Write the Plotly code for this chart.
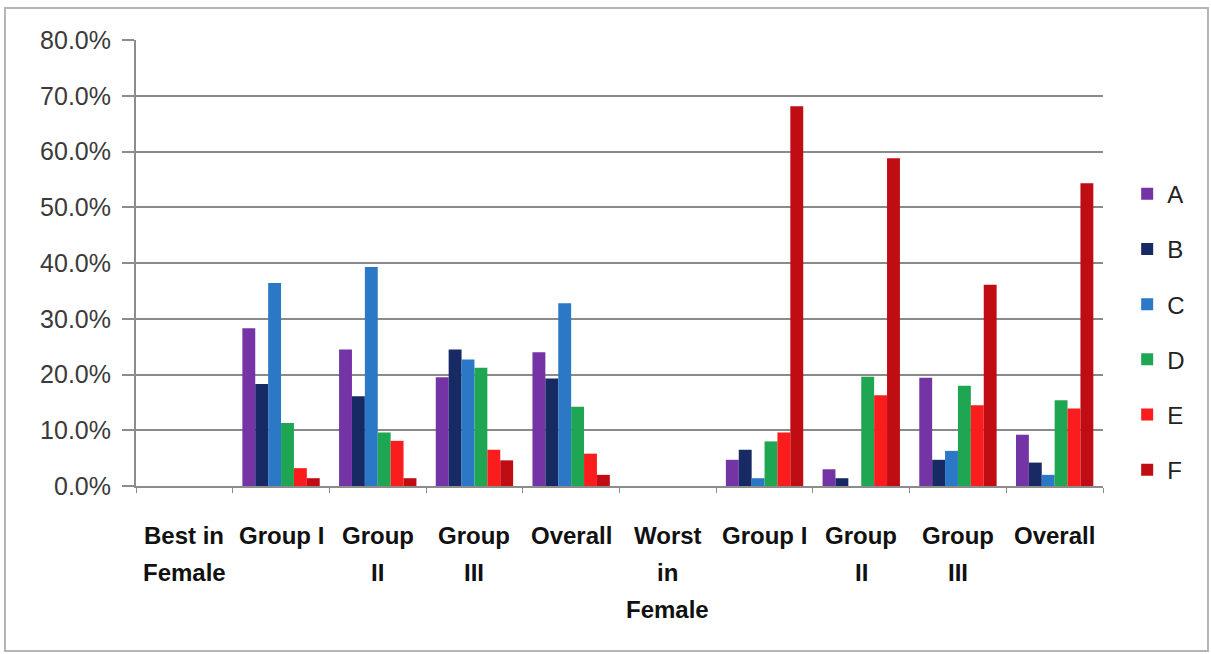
import plotly.graph_objects as go

# Category labels along the x axis (two blocks: best / worst in female)
categories = [
    "Best in<br>Female", "Group I", "Group<br>II", "Group<br>III", "Overall",
    "Worst<br>in<br>Female", "Group I", "Group<br>II", "Group<br>III", "Overall",
]

# Share of each grade per category (fractions); header columns are empty
series_names = ["A", "B", "C", "D", "E", "F"]
grade_a = [None, 0.283, 0.245, 0.195, 0.240, None, 0.047, 0.030, 0.194, 0.092]
grade_b = [None, 0.183, 0.161, 0.245, 0.193, None, 0.065, 0.014, 0.047, 0.042]
grade_c = [None, 0.364, 0.393, 0.227, 0.328, None, 0.014, 0.000, 0.063, 0.020]
grade_d = [None, 0.113, 0.096, 0.212, 0.142, None, 0.080, 0.196, 0.180, 0.154]
grade_e = [None, 0.032, 0.081, 0.065, 0.058, None, 0.096, 0.163, 0.145, 0.139]
grade_f = [None, 0.014, 0.014, 0.046, 0.020, None, 0.681, 0.588, 0.361, 0.543]

series_values = [grade_a, grade_b, grade_c, grade_d, grade_e, grade_f]
series_colors = ["#7434a6", "#172a63", "#2a78c6", "#1fa653", "#fb1d1d", "#c00d14"]

y_ticks = [0.0, 0.1, 0.2, 0.3, 0.4, 0.5, 0.6, 0.7, 0.8]

x_pos = list(range(len(categories)))

fig = go.Figure()
for name, vals, col in zip(series_names, series_values, series_colors):
    fig.add_trace(go.Bar(
        x=x_pos, y=vals, name=name, legendgroup=name,
        marker=dict(color=col, line=dict(width=0)),
    ))

font_main = "Liberation Sans, Arial, sans-serif"

# Plot area geometry in pixels (used to place the multi-line category labels)
plot_top, plot_bottom = 40, 486
plot_h = plot_bottom - plot_top
label_first_line = 535
label_line_step = 37

annotations = []
for i, label in enumerate(categories):
    for k, line in enumerate(label.split("<br>")):
        y_px = label_first_line + k * label_line_step
        annotations.append(dict(
            x=i, xref="x", y=(plot_bottom - y_px) / plot_h, yref="paper",
            text=line, showarrow=False, xanchor="center", yanchor="middle",
            font=dict(family=font_main, size=24, color="#111111", weight="bold"),
        ))

fig.update_layout(
    width=1211, height=654,
    margin=dict(l=136, r=108, t=plot_top, b=654 - plot_bottom),
    paper_bgcolor="white", plot_bgcolor="white",
    barmode="group", bargap=0.2, bargroupgap=0,
    font=dict(family=font_main, color="#333333"),
    legend=dict(
        x=1.025, y=0.345, xanchor="left", yanchor="middle",
        font=dict(size=24, color="#222222"),
        tracegroupgap=21, itemwidth=30,
        bgcolor="rgba(0,0,0,0)",
    ),
    xaxis=dict(
        range=[-0.5, 9.5],
        tickmode="array", tickvals=x_pos, showticklabels=False,
        ticks="", showgrid=False, zeroline=False,
        showline=True, linecolor="#8c8c8c", linewidth=2,
        minor=dict(tickvals=[i - 0.5 for i in range(len(categories) + 1)],
                   ticks="outside", ticklen=5, tickcolor="#8c8c8c", tickwidth=1),
    ),
    yaxis=dict(
        range=[0, 0.8], tickmode="array", tickvals=y_ticks, tickformat=".1%",
        showgrid=True, gridcolor="#8a8a8a", gridwidth=2,
        zeroline=False, showline=True, linecolor="#8c8c8c", linewidth=2,
        ticks="outside", ticklen=12, tickcolor="#8c8c8c", tickwidth=2,
        tickfont=dict(family=font_main, size=25, color="#3a3a3a"),
        ticklabelstandoff=6,
    ),
    annotations=annotations,
    shapes=[dict(
        type="rect", xref="paper", yref="paper",
        x0=(5 - 136) / 967, x1=(1208 - 136) / 967,
        y0=(plot_bottom - 651) / plot_h, y1=1 + (plot_top - 8) / plot_h,
        line=dict(color="#b5b5b5", width=2), fillcolor="rgba(0,0,0,0)",
        layer="below",
    )],
)

fig.write_html("out.html")
